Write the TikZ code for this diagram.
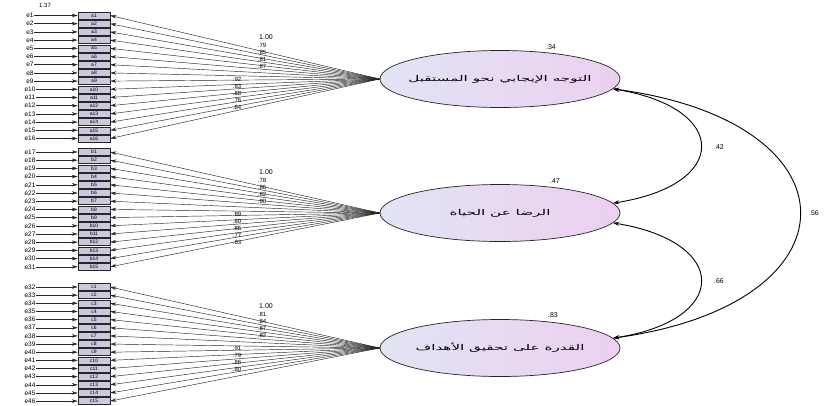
\documentclass[tikz,border=0pt]{standalone}
\usepackage{fontspec}
\setmainfont{Liberation Sans}
\newfontfamily\arabicfont[Script=Arabic,FakeStretch=1.9]{DejaVu Sans}
\TeXXeTstate=1
\usetikzlibrary{shapes.geometric,arrows.meta}
\definecolor{obsfill}{RGB}{205,200,222}
\definecolor{latL}{RGB}{226,228,244}
\definecolor{latR}{RGB}{236,208,240}
\begin{document}
\begin{tikzpicture}[x=1pt,y=-1pt,
  obs/.style={draw=black!85, line width=0.5pt, fill=obsfill, minimum width=32pt, minimum height=7pt, inner sep=0pt, font=\fontsize{5}{5}\selectfont},
  errlab/.style={inner sep=0.5pt, font=\fontsize{6.5}{6.5}\selectfont},
  lat/.style={ellipse, draw=black!85, line width=0.7pt, left color=latL, right color=latR, minimum width=240pt, minimum height=57pt, inner sep=0pt},
  latlab/.style={inner sep=0pt, font=\arabicfont\fontsize{8}{9}\selectfont},
  ar/.style={-{Stealth[length=6pt,width=3.5pt]}, line width=0.45pt, black!85},
  cov/.style={{Stealth[length=6pt,width=4pt]}-{Stealth[length=6pt,width=4pt]}, line width=0.9pt},
  num/.style={inner sep=0.5pt, font=\fontsize{7}{7}\selectfont},
  sm/.style={inner sep=0.3pt, font=\fontsize{6}{6}\selectfont}
]
\useasboundingbox (0,0) rectangle (824,405);
\fill[white] (0,0) rectangle (824,405);

% latent variables
\node[lat] (L1) at (500,79) {};
\node[lat] (L2) at (500,213) {};
\node[lat] (L3) at (500,348) {};
\node[latlab] (t1) at (L1) {\beginR التوجه الإيجابي نحو المستقبل\endR};
\node[latlab] (t2) at (L2) {\beginR الرضا عن الحياة\endR};
\node[latlab] (t3) at (L3) {\beginR القدرة على تحقيق الأهداف\endR};
\node[num] (v1) at (551,47) {.34};
\node[num] (v2) at (555,181) {.47};
\node[num] (v3) at (553,315) {.83};

% group 1
\foreach \i in {1,...,16} {
  \pgfmathsetmacro\yy{15.5+8.2*(\i-1)}
  \node[obs] (a\i) at (94,\yy) {a\i};
  \node[errlab] (e\i) at (30,\yy) {e\i};
  \draw[ar] (e\i) -- (a\i);
  \draw[ar] (L1.west) -- (a\i.east);
}
% group 2
\foreach \i in {1,...,15} {
  \pgfmathsetmacro\yy{152+8.2*(\i-1)}
  \pgfmathtruncatemacro\k{\i+16}
  \node[obs] (b\i) at (94,\yy) {b\i};
  \node[errlab] (e\k) at (30,\yy) {e\k};
  \draw[ar] (e\k) -- (b\i);
  \draw[ar] (L2.west) -- (b\i.east);
}
% group 3
\foreach \i in {1,...,15} {
  \pgfmathsetmacro\yy{287+8.15*(\i-1)}
  \pgfmathtruncatemacro\k{\i+31}
  \node[obs] (c\i) at (94,\yy) {c\i};
  \node[errlab] (e\k) at (30,\yy) {e\k};
  \draw[ar] (e\k) -- (c\i);
  \draw[ar] (L3.west) -- (c\i.east);
}
\node[sm] (ve1) at (45,5) {1.37};

% loadings group 1
\node[num] (l1a) at (266,37) {1.00};
\node[sm] (l1b) at (262,45) {.79};
\node[sm] (l1c) at (262,52) {.85};
\node[sm] (l1d) at (262,59) {.81};
\node[sm] (l1e) at (262,66) {.87};
\node[sm] (l1f) at (237,79) {.92};
\node[sm] (l1g) at (237,86) {.83};
\node[sm] (l1h) at (237,93) {.88};
\node[sm] (l1i) at (237,100) {.76};
\node[sm] (l1j) at (237,107) {.84};
% loadings group 2
\node[num] (l2a) at (266,172) {1.00};
\node[sm] (l2b) at (262,180) {.78};
\node[sm] (l2c) at (262,187) {.86};
\node[sm] (l2d) at (262,194) {.82};
\node[sm] (l2e) at (262,201) {.90};
\node[sm] (l2f) at (237,214) {.89};
\node[sm] (l2g) at (237,221) {.80};
\node[sm] (l2h) at (237,228) {.85};
\node[sm] (l2i) at (237,235) {.77};
\node[sm] (l2j) at (237,242) {.83};
% loadings group 3
\node[num] (l3a) at (266,306) {1.00};
\node[sm] (l3b) at (262,314) {.81};
\node[sm] (l3c) at (262,321) {.84};
\node[sm] (l3d) at (262,328) {.87};
\node[sm] (l3e) at (262,335) {.82};
\node[sm] (l3f) at (237,348) {.91};
\node[sm] (l3g) at (237,355) {.79};
\node[sm] (l3h) at (237,362) {.86};
\node[sm] (l3i) at (237,369) {.80};

% covariances
\draw[cov] (L1.-5) .. controls (730,108) and (730,185) .. (L2.5);
\draw[cov] (L2.-5) .. controls (730,242) and (730,320) .. (L3.5);
\draw[cov] (L1.-5) .. controls (862,122) and (862,304) .. (L3.5);
\node[num] (c12) at (719,147) {.42};
\node[num] (c23) at (719,281) {.66};
\node[num] (c13) at (814,213) {.56};
\end{tikzpicture}
\end{document}
